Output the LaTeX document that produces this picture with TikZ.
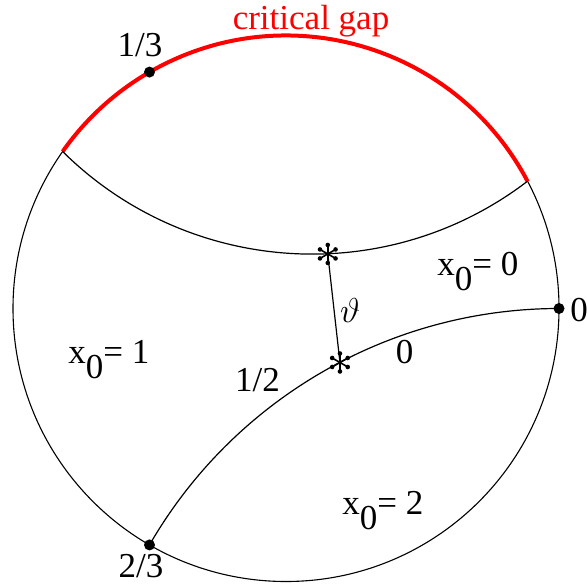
\documentclass[tikz,border=0pt]{standalone}
\usepackage{fontspec}
\setmainfont{LiberationSerif}[Extension=.ttf, UprightFont=*-Regular, ItalicFont=*-Italic, BoldFont=*-Bold]
\usepackage{tikz}
\usetikzlibrary{calc}
\tikzset{
  cerc/.style     = {line width=0.55pt},
  arcrosu/.style  = {draw=red, line width=2pt},
  linie/.style    = {line width=0.6pt},
  punct/.style    = {circle, fill, inner sep=0pt, minimum size=5.5pt},
  eticheta/.style = {inner sep=0pt, font=\fontsize{17.5pt}{21pt}\selectfont},
  stea/.pic       = {\foreach \u in {30,90,...,330}{
                       \draw[line width=0.8pt] (0,0) -- (\u:9);
                       \fill (\u:9) circle[radius=2.3];}}
}
\newcommand{\xzero}[1]{x\raisebox{-0.43em}{0}= #1}

\begin{document}
\begin{tikzpicture}[x=0.5pt, y=0.5pt]
        \useasboundingbox (0,0) rectangle (587,584);
        \coordinate (O) at (286,275.5);
        \coordinate (Csus) at (312.3,684.4);
        \coordinate (Cjos) at (559,-197.5);

        \draw[cerc] (O) circle[radius=273];
        \draw[arcrosu] ($(O)+(27.7:273)$) arc[start angle=27.7, end angle=144.9, radius=273];

        % the two arcs inside the disc
        \draw[linie] ($(O)+(144.9:273)$) arc[start angle=225.3, end angle=307.4, radius=354.7];
        \draw[linie] ($(O)+(240:273)$) arc[start angle=150, end angle=90, radius=472.85];

        \coordinate (stea1) at ($(Csus)+(272.5:354.7)$);
        \coordinate (stea2) at ($(Cjos)+(117.6:472.85)$);
        \draw[linie] (stea1) -- (stea2);
        \pic at (stea1) {stea};
        \pic at (stea2) {stea};

        \node[punct] (p13) at ($(O)+(120:273)$) {};
        \node[punct] (p23) at ($(O)+(240:273)$) {};
        \node[punct] (p0) at ($(O)+(0:273)$) {};

        \node[eticheta, anchor=base, text=red] (gap) at (311,554) {critical gap};
        \node[eticheta, anchor=base] (e13) at (140,527) {1/3};
        \node[eticheta, anchor=base] (e23) at (141,7) {2/3};
        \node[eticheta, anchor=base] (e0) at (579,263) {0};
        \node[eticheta, anchor=base] (e12) at (257.5,193) {1/2};
        \node[eticheta, anchor=base] (e0j) at (404.5,221) {0};
        \node[eticheta, anchor=base] (teta) at (350,262) {$\vartheta$};
        \node[eticheta, anchor=base west] (x0) at (437,309) {\xzero{0}};
        \node[eticheta, anchor=base west] (x1) at (68,221) {\xzero{1}};
        \node[eticheta, anchor=base west] (x2) at (342,70) {\xzero{2}};
    \end{tikzpicture}
\end{document}
